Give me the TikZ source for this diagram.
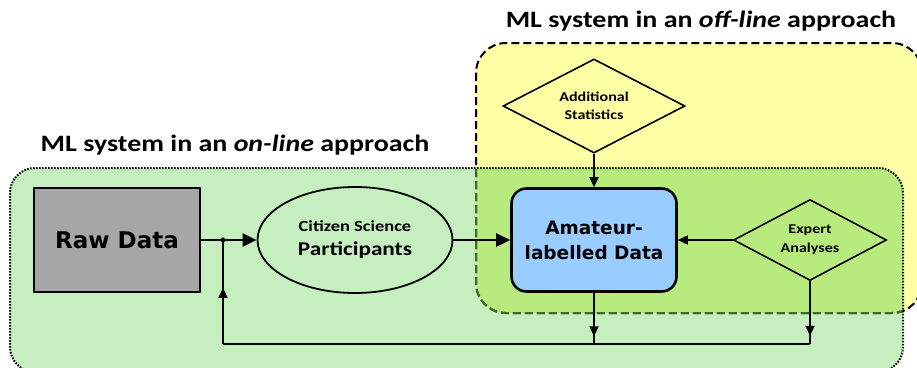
\documentclass[tikz,border=0pt]{standalone}
\usepackage{fontspec}
\setmainfont{Carlito}[FakeStretch=1.19]
\newfontfamily\heavyfont{DejaVu Sans}
\usetikzlibrary{shapes.geometric,decorations.markings,arrows.meta}
\definecolor{onlinegreen}{HTML}{C6EFBF}
\definecolor{offyellow}{HTML}{FFFFA6}
\definecolor{bothgreen}{HTML}{B8EB7D}
\definecolor{dashgreen}{HTML}{3C6E23}
\definecolor{rawgray}{HTML}{A6A6A6}
\definecolor{labelblue}{HTML}{99CCFF}
\tikzset{
  mainarrow/.style={line width=2.6pt, -{Triangle[length=14pt,width=13pt]}},
  sidearrow/.style={line width=1.6pt, -{Triangle[length=10pt,width=9pt]}},
  backline/.style={line width=1.6pt},
  midarrow/.style={backline, postaction={decorate},
    decoration={markings, mark=at position #1 with {\arrow{Triangle[length=10pt,width=9pt]}}}},
  decision/.style={diamond, draw, line width=1.6pt, fill=#1, inner sep=0pt, align=center,
    font=\bfseries\fontsize{13.5}{17.5}\selectfont},
}
\begin{document}
\begin{tikzpicture}[x=1pt,y=-1pt]
\useasboundingbox (0,0) rectangle (917,367);
\begin{scope}
  \clip (0,0) rectangle (917,367);
  \fill[onlinegreen, rounded corners=25pt] (10,168) rectangle (903,372);
  \fill[offyellow, rounded corners=30pt] (476,43) rectangle (922,313);
  \begin{scope}
    \clip[rounded corners=25pt] (10,168) rectangle (903,372);
    \fill[bothgreen, rounded corners=30pt] (476,43) rectangle (922,313);
  \end{scope}
  \draw[line width=2pt, dash pattern=on 8pt off 4pt, rounded corners=30pt] (476,43) rectangle (922,313);
  \begin{scope}
    \clip[rounded corners=25pt] (10,168) rectangle (903,372);
    \draw[dashgreen, line width=2pt, dash pattern=on 8pt off 4pt, rounded corners=30pt] (476,43) rectangle (922,313);
  \end{scope}
  \draw[line width=2pt, dash pattern=on 1.6pt off 1.4pt, rounded corners=25pt] (10,168) rectangle (903,372);
\end{scope}

\node[font=\bfseries\fontsize{23.5}{26}\selectfont] (ontitle) at (235,145) {ML system in an \textit{on-line} approach};
\node[font=\bfseries\fontsize{23.5}{26}\selectfont] (offtitle) at (701,21) {ML system in an \textit{off-line} approach};

\node[draw, line width=2.4pt, fill=rawgray, minimum width=166pt, minimum height=104pt,
  font=\heavyfont\bfseries\fontsize{23}{26}\selectfont] (raw) at (117,240) {Raw Data};
\node[ellipse, draw, line width=1.8pt, minimum width=195pt, minimum height=106pt, inner sep=0pt,
  align=center, font=\bfseries\fontsize{19.5}{24}\selectfont] (csp) at (355,240)
  {{\fontsize{15.5}{18}\selectfont Citizen Science}\\Participants};
\node[draw, line width=2.6pt, fill=labelblue, rounded corners=15pt, minimum width=165pt,
  minimum height=103pt, align=center, font=\heavyfont\bfseries\fontsize{18.5}{25}\selectfont] (ald) at (594,240)
  {Amateur-\\labelled Data};
\node[decision=offyellow, aspect=1.94, minimum width=182pt, minimum height=94pt] (stats) at (594,106)
  {Additional\\Statistics};
\node[decision=bothgreen, aspect=1.89, minimum width=153pt, minimum height=81pt,
  font=\bfseries\fontsize{13.5}{19}\selectfont] (expert) at (810,240)
  {Expert\\Analyses};

\coordinate (jn) at (223,240);
\coordinate (fa) at (594,344);
\coordinate (fe) at (810,344);
\coordinate (fr) at (223,344);

\draw[mainarrow] (raw) -- (csp);
\fill (jn) circle (2.6pt);
\draw[mainarrow] (csp) -- (ald);
\draw[sidearrow] (stats) -- (ald);
\draw[sidearrow] (expert) -- (ald);
\draw[midarrow=0.85] (ald) -- (fa);
\draw[midarrow=0.87] (expert) -- (fe);
\draw[backline] (fe) -- (fr);
\draw[midarrow=0.54] (fr) -- (jn);
\end{tikzpicture}
\end{document}
